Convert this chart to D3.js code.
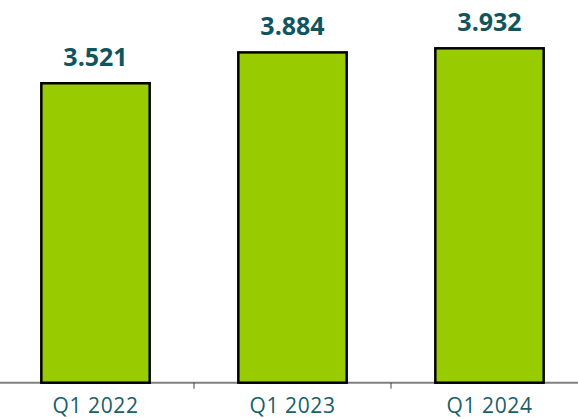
<!DOCTYPE html>
<html>
<head>
<meta charset="utf-8">
<script src="https://cdn.jsdelivr.net/npm/d3@7"></script>
<style>
  body { margin: 0; background: #fff; }
</style>
</head>
<body>
<div id="chart"></div>
<script>
// chart data
var quarters = ["Q1 2022", "Q1 2023", "Q1 2024"];
var values = [3.521, 3.884, 3.932];
var labels = ["3.521", "3.884", "3.932"];

var width = 578, height = 419;
var baseY = 382.7;

var svg = d3.select("#chart")
  .append("svg")
    .attr("width", width)
    .attr("height", height);

// the plot runs slightly past the right edge of the picture
var x = d3.scaleBand()
    .domain(quarters)
    .range([-3, 588])
    .paddingInner(0.45)
    .paddingOuter(0.225);

var y = d3.scaleLinear()
    .domain([0, 4.5])
    .range([baseY, 0]);

var rows = quarters.map(function(q, i) { return {q: q, v: values[i], t: labels[i]}; });

// axis line across the whole width
svg.append("line")
    .attr("x1", 0).attr("x2", width)
    .attr("y1", baseY).attr("y2", baseY)
    .attr("stroke", "#808080")
    .attr("stroke-width", 2);

// tick marks between the categories
svg.append("g")
  .selectAll("line")
  .data(quarters.slice(1))
  .enter()
  .append("line")
    .attr("x1", function(d) { return x(d) - x.step() * x.paddingInner() / 2; })
    .attr("x2", function(d) { return x(d) - x.step() * x.paddingInner() / 2; })
    .attr("y1", baseY)
    .attr("y2", baseY + 6)
    .attr("stroke", "#404040")
    .attr("stroke-width", 1);

// bars
svg.append("g")
  .selectAll("rect")
  .data(rows)
  .enter()
  .append("rect")
    .attr("x", function(d) { return x(d.q); })
    .attr("y", function(d) { return y(d.v); })
    .attr("width", x.bandwidth())
    .attr("height", function(d) { return baseY - y(d.v); })
    .attr("fill", "#99cc00")
    .attr("stroke", "#000")
    .attr("stroke-width", 2.5);

// value labels
svg.append("g")
  .selectAll("text")
  .data(rows)
  .enter()
  .append("text")
    .attr("x", function(d) { return x(d.q) + x.bandwidth() / 2; })
    .attr("y", function(d) { return y(d.v) - 17; })
    .attr("text-anchor", "middle")
    .style("font-family", "'Open Sans', sans-serif")
    .style("font-weight", "bold")
    .style("font-size", "25px")
    .style("fill", "#0e5560")
    .text(function(d) { return d.t; });

// category labels
svg.append("g")
  .selectAll("text")
  .data(rows)
  .enter()
  .append("text")
    .attr("x", function(d) { return x(d.q) + x.bandwidth() / 2; })
    .attr("y", 413)
    .attr("text-anchor", "middle")
    .style("font-family", "'Open Sans', sans-serif")
    .style("font-size", "21px")
    .style("letter-spacing", "0.6px")
    .style("fill", "#17606a")
    .text(function(d) { return d.q; });
</script>
</body>
</html>
